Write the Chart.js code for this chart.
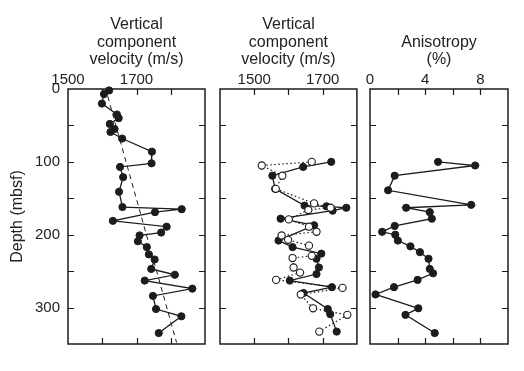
<!DOCTYPE html>
<html>
<head>
<meta charset="utf-8">
<script src="https://cdn.jsdelivr.net/npm/chart.js@4/dist/chart.umd.min.js"></script>
<style>
  html, body { margin: 0; padding: 0; background: #fff; }
  #wrap { position: relative; width: 524px; height: 371px; overflow: hidden; }
  canvas { position: absolute; top: 0; }
</style>
</head>
<body>
<div id="wrap">
  <canvas id="c1" width="210" height="371" style="left:0px"></canvas>
  <canvas id="c2" width="152" height="371" style="left:210px"></canvas>
  <canvas id="c3" width="162" height="371" style="left:362px"></canvas>
</div>
<script>
// ---------- Data ----------
// Panel 1: vertical component velocity (m/s) vs depth (mbsf)
const p1Depth = [2, 7, 20, 35, 40, 48, 55, 59, 68, 86, 102, 107, 121, 141, 162, 165, 169, 181, 189, 197, 201, 209, 217, 227, 234, 247, 255, 263, 274, 284, 302, 312, 335];
const p1Vel   = [1620, 1605, 1599, 1643, 1648, 1622, 1636, 1624, 1658, 1745, 1744, 1652, 1661, 1649, 1659, 1832, 1754, 1631, 1788, 1772, 1709, 1704, 1730, 1736, 1753, 1743, 1812, 1724, 1863, 1748, 1757, 1831, 1765];
// Panel 1 dashed trend line
const trendDepth = [10, 348];
const trendVel   = [1616, 1817];

// Panel 2: filled symbols (solid line)
const p2FilledDepth = [100, 107, 119, 137, 160, 161, 163, 167, 178, 187, 208, 217, 226, 233, 245, 254, 263, 272, 280, 302, 309, 333];
const p2FilledVel   = [1725, 1643, 1553, 1561, 1647, 1711, 1769, 1729, 1577, 1675, 1571, 1612, 1696, 1682, 1689, 1682, 1604, 1727, 1644, 1715, 1722, 1741];
// Panel 2: open symbols (dotted line)
const p2OpenDepth = [100, 105, 119, 137, 157, 163, 166, 179, 189, 196, 201, 207, 215, 229, 232, 245, 252, 262, 273, 282, 301, 310, 333];
const p2OpenVel   = [1668, 1522, 1582, 1563, 1675, 1723, 1658, 1601, 1660, 1682, 1580, 1599, 1660, 1668, 1612, 1615, 1634, 1564, 1758, 1636, 1672, 1772, 1690];

// Panel 3: anisotropy (%)
const p3Depth = [100, 105, 119, 139, 159, 163, 169, 178, 188, 196, 200, 208, 216, 224, 233, 247, 253, 262, 272, 282, 301, 310, 335];
const p3Aniso = [4.93, 7.62, 1.79, 1.31, 7.33, 2.62, 4.33, 4.48, 1.79, 0.88, 1.83, 2.02, 2.93, 3.62, 4.24, 4.33, 4.57, 3.45, 1.74, 0.40, 3.5, 2.57, 4.69];

// Axis ranges / tick labels
const depthRange = [0, 350];
const depthLabels = [0, 100, 200, 300];
const vel1Range = [1500, 1900];
const vel2Range = [1400, 1800];
const velLabels = [1500, 1700];
const anisoRange = [0, 10];
const anisoLabels = [0, 4, 8];

const titles1 = ['Vertical', 'component', 'velocity (m/s)'];
const titles2 = ['Vertical', 'component', 'velocity (m/s)'];
const titles3 = ['Anisotropy', '(%)'];
const depthTitle = 'Depth (mbsf)';

// ---------- helpers ----------
const INK = '#1c1c1c';
const FONT = '"Liberation Sans", Arial, Helvetica, sans-serif';
Chart.defaults.font.family = FONT;
Chart.defaults.color = '#222';

const pts = (ys, xs) => xs.map((x, i) => ({ x: x, y: ys[i] }));

const frameTicks = {
  id: 'frameTicks',
  beforeDatasetsDraw(chart) {
    const { ctx, chartArea: a, scales } = chart;
    const len = 6;
    ctx.save();
    ctx.strokeStyle = INK;
    ctx.lineWidth = 1.5;
    ctx.strokeRect(a.left, a.top, a.right - a.left, a.bottom - a.top);
    ctx.lineWidth = 1.2;
    ctx.beginPath();
    const xs = scales.x, ys = scales.y;
    xs.ticks.forEach(t => {
      if (t.value <= xs.min || t.value >= xs.max) return;
      const px = Math.round(xs.getPixelForValue(t.value)) + 0.5;
      ctx.moveTo(px, a.top); ctx.lineTo(px, a.top + len);
      ctx.moveTo(px, a.bottom); ctx.lineTo(px, a.bottom - len);
    });
    ys.ticks.forEach(t => {
      if (t.value <= ys.min || t.value >= ys.max) return;
      const py = Math.round(ys.getPixelForValue(t.value)) + 0.5;
      ctx.moveTo(a.left, py); ctx.lineTo(a.left + len, py);
      ctx.moveTo(a.right, py); ctx.lineTo(a.right - len, py);
    });
    ctx.stroke();
    ctx.restore();
  }
};

function xScale(range, step, labels, titleLines, padTop) {
  return {
    type: 'linear',
    position: 'top',
    min: range[0], max: range[1],
    grid: { display: false, drawTicks: false },
    border: { display: false },
    ticks: {
      stepSize: step, autoSkip: false, maxRotation: 0, padding: 0,
      font: { size: 15 }, color: '#222',
      callback: v => labels.includes(v) ? String(v) : ''
    },
    title: {
      display: true, text: titleLines, color: '#222',
      font: { size: 16, lineHeight: 1.1 },
      padding: { top: padTop, bottom: 0 }
    },
    afterFit: s => { s.height = 89; }
  };
}

function yScale(showLabels) {
  const o = {
    type: 'linear',
    reverse: true,
    min: depthRange[0], max: depthRange[1],
    grid: { display: false, drawTicks: false },
    border: { display: false },
    ticks: {
      stepSize: 50, autoSkip: false, padding: 8,
      font: { size: 15 }, color: '#222',
      callback: v => depthLabels.includes(v) ? String(v) : ''
    },
    display: showLabels
  };
  if (showLabels) {
    o.title = {
      display: true, text: depthTitle, color: '#222',
      font: { size: 16, lineHeight: 1.1 },
      padding: { top: 9, bottom: 0 }
    };
    o.afterFit = s => { s.width = 68; };
  }
  return o;
}

const filled = (data) => ({
  data, showLine: true, borderColor: INK, borderWidth: 1.3,
  pointRadius: 3.6, pointBackgroundColor: INK, pointBorderColor: INK,
  pointBorderWidth: 1, tension: 0, clip: false
});

const baseOpts = (pad, xs, ys) => ({
  responsive: false, animation: false, devicePixelRatio: 1,
  layout: { padding: pad },
  plugins: { legend: { display: false }, tooltip: { enabled: false } },
  scales: { x: xs, y: ys }
});

// Panel 1
new Chart(document.getElementById('c1'), {
  type: 'scatter',
  data: {
    datasets: [
      Object.assign({}, {
        data: pts(trendDepth, trendVel), showLine: true, borderColor: INK,
        borderWidth: 1, borderDash: [5, 4], pointRadius: 0
      }),
      filled(pts(p1Depth, p1Vel))
    ]
  },
  options: baseOpts({ left: 0, top: 0, right: 4, bottom: 27 },
    xScale(vel1Range, 100, velLabels, titles1, 16), yScale(true)),
  plugins: [frameTicks]
});

// Panel 2
new Chart(document.getElementById('c2'), {
  type: 'scatter',
  data: {
    datasets: [
      {
        data: pts(p2OpenDepth, p2OpenVel), showLine: true, borderColor: INK,
        borderWidth: 1.2, borderDash: [1.5, 2.5], pointRadius: 3.6,
        pointBackgroundColor: '#fff', pointBorderColor: INK, pointBorderWidth: 1.1,
        clip: false
      },
      filled(pts(p2FilledDepth, p2FilledVel))
    ]
  },
  options: baseOpts({ left: 10, top: 0, right: 5, bottom: 27 },
    xScale(vel2Range, 100, velLabels, titles2, 16), yScale(false)),
  plugins: [frameTicks]
});

// Panel 3
new Chart(document.getElementById('c3'), {
  type: 'scatter',
  data: { datasets: [filled(pts(p3Depth, p3Aniso))] },
  options: baseOpts({ left: 8, top: 0, right: 16, bottom: 27 },
    xScale(anisoRange, 2, anisoLabels, titles3, 16 + 17.6), yScale(false)),
  plugins: [frameTicks]
});
</script>
</body>
</html>
